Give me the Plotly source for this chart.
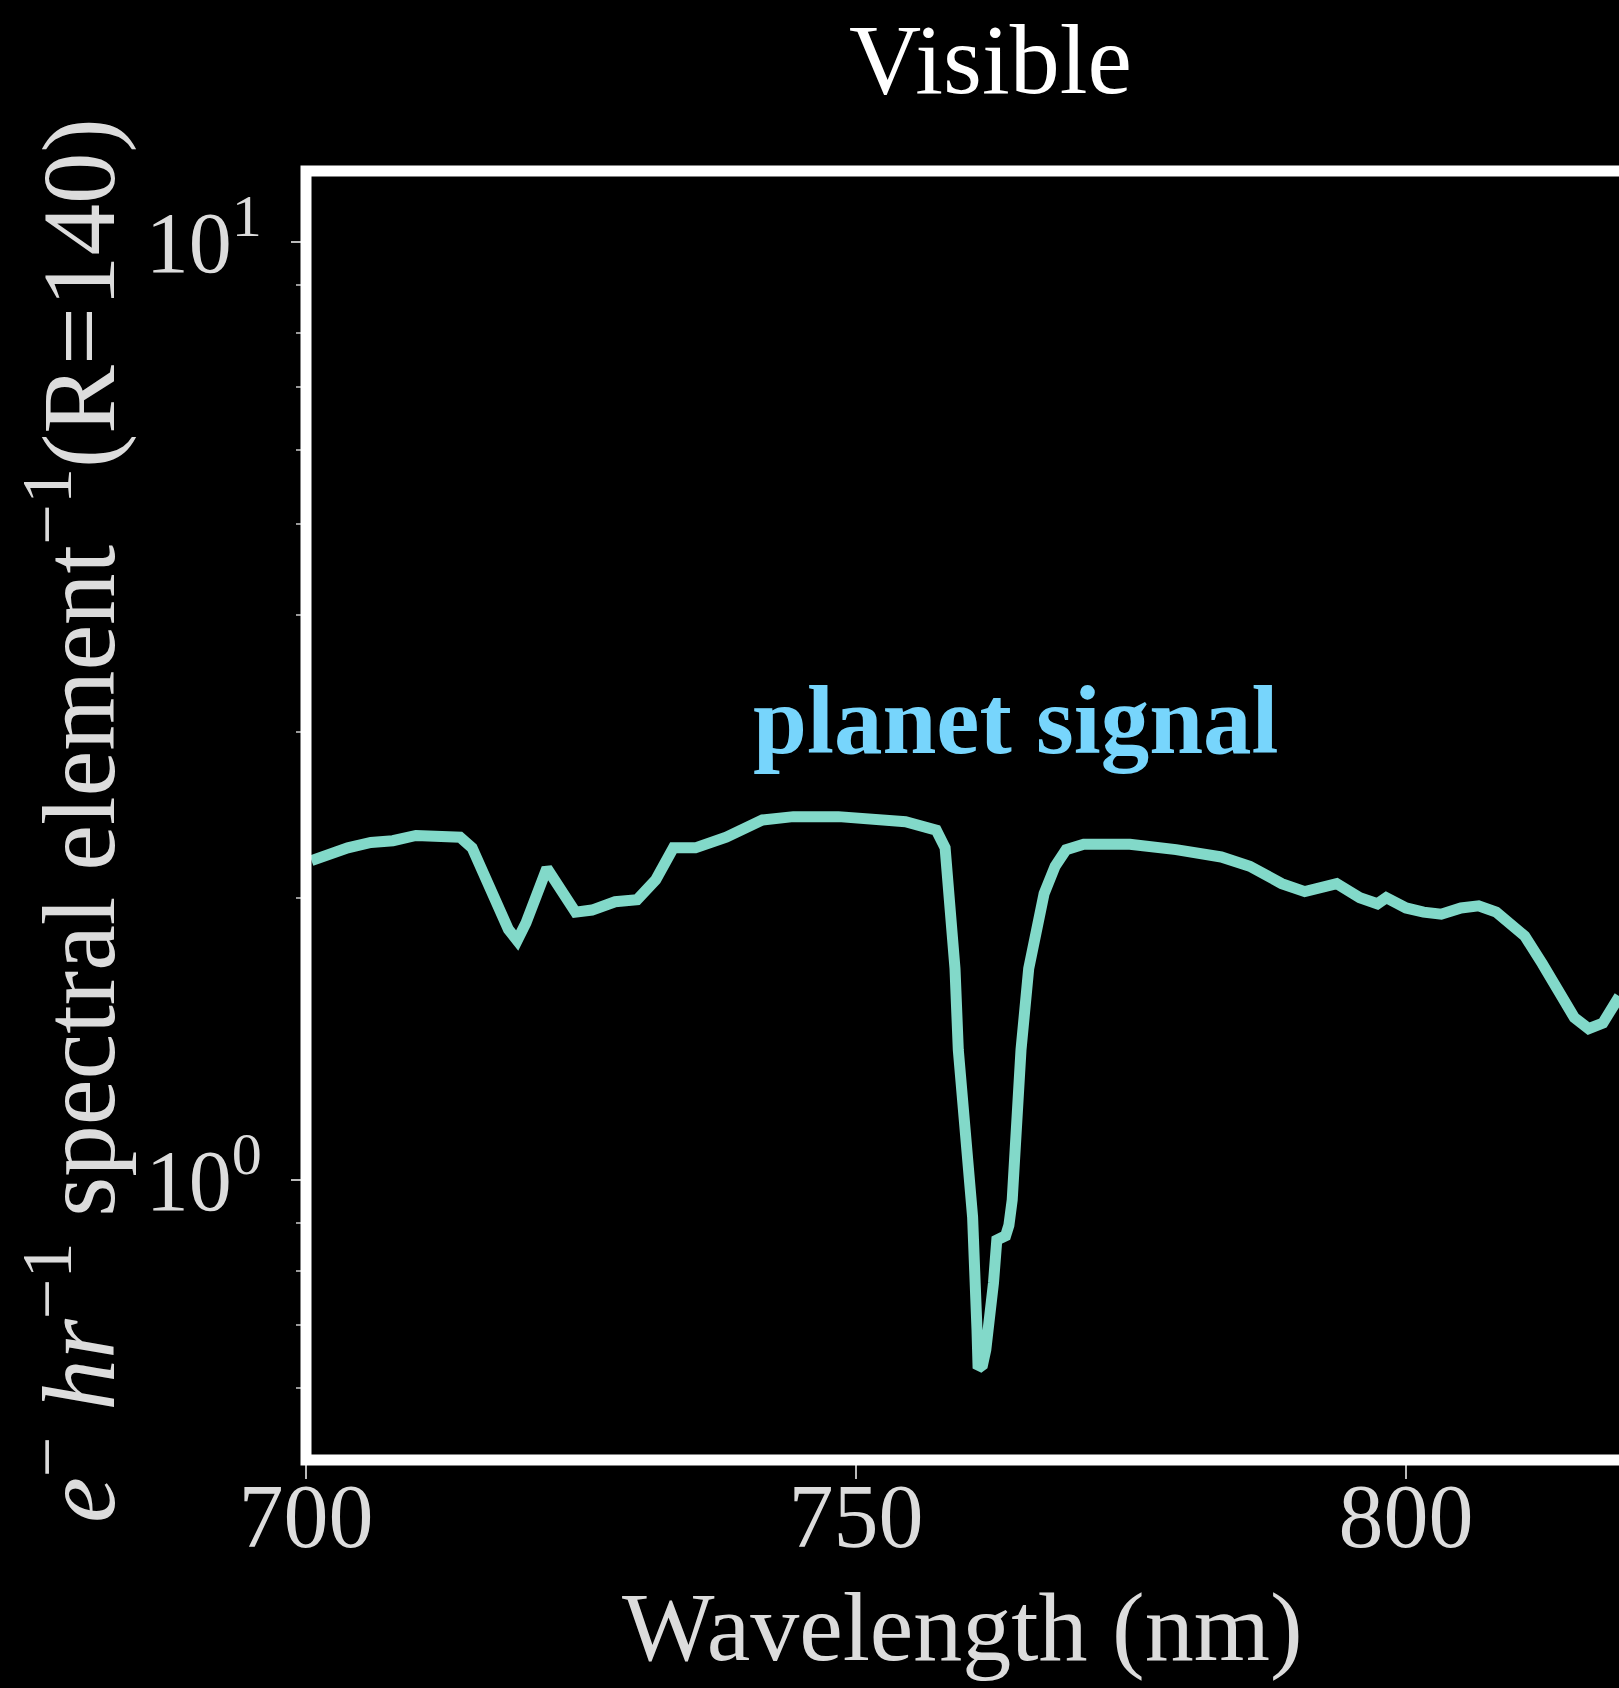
import plotly.graph_objects as go

# Wavelength (nm) and signal (e- / hr / spectral element)
wavelength = [700.5, 702.2, 703.8, 705.9, 707.9, 710.0, 711.9, 714.0, 715.1, 716.8,
              718.4, 719.2, 720.0, 721.9, 722.9, 724.5, 726.0, 728.1, 730.1, 731.8,
              733.4, 735.4, 738.2, 741.5, 744.3, 748.4, 754.5, 757.3, 758.1, 758.5,
              759.0, 759.3, 760.0, 760.6, 761.0, 761.1, 761.5, 761.8, 762.5, 762.7,
              762.8, 763.6, 763.9, 764.2, 764.6, 765.0, 765.7, 766.4, 767.1, 768.1,
              769.1, 770.7, 774.9, 779.1, 783.2, 785.8, 788.7, 790.8, 793.7, 795.8,
              797.4, 798.2, 800.0, 801.6, 803.2, 805.0, 806.6, 808.2, 810.8, 812.4,
              814.1, 815.3, 816.6, 817.9, 819.4]
signal = [2.19, 2.23, 2.26, 2.29, 2.30, 2.33, 2.33, 2.32, 2.26, 2.04,
          1.85, 1.80, 1.88, 2.15, 2.07, 1.93, 1.94, 1.98, 1.99, 2.09,
          2.26, 2.26, 2.32, 2.42, 2.44, 2.44, 2.41, 2.36, 2.26, 2.02,
          1.68, 1.376, 1.13, 0.913, 0.692, 0.63, 0.635, 0.659, 0.777, 0.818,
          0.863, 0.872, 0.895, 0.952, 1.159, 1.376, 1.68, 1.866, 2.02, 2.16,
          2.25, 2.28, 2.28, 2.25, 2.21, 2.16, 2.07, 2.03, 2.07, 2.00,
          1.97, 2.00, 1.95, 1.93, 1.92, 1.95, 1.96, 1.93, 1.82, 1.70,
          1.58, 1.49, 1.45, 1.47, 1.57]

x_tickvals = [700, 750, 800]
x_ticktext = ["700", "750", "800"]
y_tickvals = [1, 10]
y_ticktext = ["10<sup>0</sup>", "10<sup>1</sup>"]
y_minor = [0.5, 0.6, 0.7, 0.8, 0.9, 2, 3, 4, 5, 6, 7, 8, 9]

title_text = "Visible"
label_text = "planet signal"
x_title = "Wavelength (nm)"
y_title = "<i>e</i><sup>−</sup> <i>hr</i><sup>−1</sup> spectral element<sup>−1</sup>(R=140)"

W, H = 1619, 1688
L, T, B = 306, 171, 228
pw, ph = W - L, H - T - B

def px_x(p):
    return (p - L) / pw

def px_y(p):
    return (H - B - p) / ph

serif = "Liberation Serif, Times New Roman, serif"
grey = "#dcdcdc"

fig = go.Figure()
fig.add_trace(go.Scatter(x=wavelength, y=signal, mode="lines",
                         line=dict(color="#82d9c9", width=11), showlegend=False))

fig.update_layout(
    width=W, height=H,
    paper_bgcolor="black", plot_bgcolor="black",
    margin=dict(l=L, r=0, t=T, b=B, autoexpand=False),
    xaxis=dict(range=[700, 700 + pw / 11.0], showgrid=False, zeroline=False,
               showline=False, tickmode="array", tickvals=x_tickvals, ticktext=x_ticktext,
               ticks="outside", ticklen=18, tickwidth=2, tickcolor="#bbbbbb",
               ticklabelstandoff=-40,
               tickfont=dict(family=serif, size=90, color=grey), automargin=False),
    yaxis=dict(type="log", range=[-0.2985, 1.0757], showgrid=False, zeroline=False,
               showline=False, tickmode="array", tickvals=y_tickvals, ticktext=y_ticktext,
               ticks="outside", ticklen=14, tickwidth=2, tickcolor="#bbbbbb",
               ticklabelstandoff=12,
               minor=dict(tickmode="array", tickvals=y_minor, ticks="outside",
                          ticklen=9, tickwidth=1.5, tickcolor="#999999"),
               tickfont=dict(family=serif, size=86, color=grey), automargin=False),
    shapes=[dict(type="rect", xref="paper", yref="paper", x0=0, x1=1.05, y0=0, y1=1,
                 line=dict(color="white", width=11), fillcolor="rgba(0,0,0,0)",
                 layer="above")],
    annotations=[
        dict(text=title_text, xref="paper", yref="paper", x=px_x(990), y=px_y(59),
             xanchor="center", yanchor="middle", showarrow=False,
             font=dict(family=serif, size=100, color="white")),
        dict(text="<b>" + label_text + "</b>", xref="paper", yref="paper",
             x=px_x(1016), y=px_y(720), xanchor="center", yanchor="middle",
             showarrow=False, font=dict(family=serif, size=97, color="#77d5fc")),
        dict(text=x_title, xref="paper", yref="paper", x=px_x(962), y=px_y(1627),
             xanchor="center", yanchor="middle", showarrow=False,
             font=dict(family=serif, size=98, color=grey)),
        dict(text=y_title, xref="paper", yref="paper", x=px_x(72), y=px_y(821),
             xanchor="center", yanchor="middle", showarrow=False, textangle=-90,
             font=dict(family=serif, size=103, color=grey)),
    ],
)

fig.write_html("out.html", config={"displayModeBar": False},
               post_script="document.body.style.margin='0';"
                           "document.body.style.background='black';")
